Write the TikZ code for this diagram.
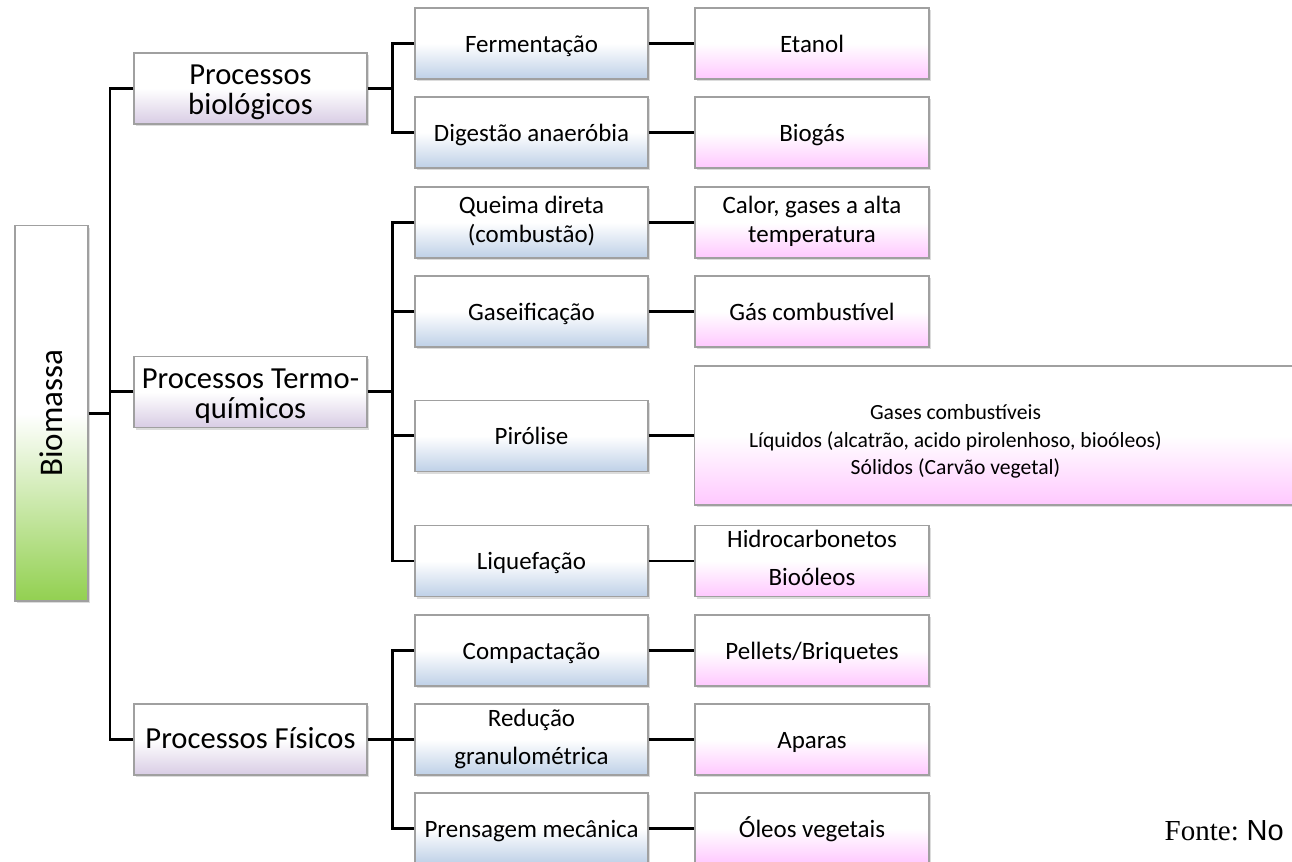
\documentclass[tikz,border=0pt]{standalone}
\usepackage{fontspec}
\setmainfont{Carlito}
\newfontfamily\fonteserif{Liberation Serif}
\newfontfamily\fontesans{Liberation Sans}
\usetikzlibrary{shadows}
\definecolor{boxline}{RGB}{160,160,160}
\definecolor{purpbot}{RGB}{216,204,228}
\definecolor{bluebot}{RGB}{190,208,231}
\definecolor{pinkbot}{RGB}{255,200,255}
\definecolor{greenbot}{RGB}{146,208,80}
\newcommand{\lowstrut}{\rule[-0.25em]{0pt}{1.2em}}
\newcommand{\midstrut}{\rule[-0.3em]{0pt}{1.2em}}
\newcommand{\twolines}[2]{\raisebox{-1.5pt}[\height][\depth]{\begin{tabular}{@{}c@{}}#1\\#2\end{tabular}}}
\begin{document}
\begin{tikzpicture}[x=0.01cm,y=-0.01cm,
  basebox/.style={draw=boxline, line width=0.35pt, rectangle, inner sep=1pt, align=center,
    drop shadow={shadow xshift=0.5pt, shadow yshift=-0.6pt, opacity=0.28}},
  strutlow/.style={execute at begin node=\lowstrut, execute at end node=\lowstrut},
  strutmid/.style={execute at begin node=\midstrut, execute at end node=\midstrut},
  lvlone/.style={basebox, strutmid, minimum width=2.33cm, minimum height=0.71cm,
    top color=white, bottom color=purpbot, middle color=white,
    font=\fontsize{8.7}{8.5}\selectfont},
  lvltwo/.style={basebox, strutlow, minimum width=2.33cm, minimum height=0.71cm,
    top color=white, bottom color=bluebot, middle color=white,
    font=\fontsize{7.1}{8}\selectfont},
  lvlthree/.style={basebox, strutlow, minimum width=2.34cm, minimum height=0.71cm,
    top color=white, bottom color=pinkbot, middle color=white,
    font=\fontsize{7.1}{8}\selectfont},
  rootbox/.style={basebox, minimum width=0.73cm, minimum height=3.75cm,
    top color=white, bottom color=greenbot, middle color=white,
    font=\fontsize{9.4}{10}\selectfont},
  conn/.style={line width=0.85pt, draw=black}
]
\useasboundingbox (0,0) rectangle (1292,862);
\clip (0,0) rectangle (1292,862);

% root
\node[rootbox] (bio) at (51.5,413.5) {\rotatebox{90}{Biomassa}};

% level 1
\node[lvlone] (pa) at (250.5,88.5) {\twolines{Processos}{biológicos}};
\node[lvlone] (pb) at (250.5,392) {\twolines{Processos Termo-}{químicos}};
\node[lvlone] (pc) at (250.5,739.5) {Processos Físicos};

% level 2
\node[lvltwo] (fa) at (531.5,43.5) {Fermentação};
\node[lvltwo] (fb) at (531.5,132.5) {Digestão anaeróbia};
\node[lvltwo] (fc) at (531.5,222.5) {Queima direta\\(combustão)};
\node[lvltwo] (fd) at (531.5,311.5) {Gaseificação};
\node[lvltwo] (fe) at (531.5,436) {Pirólise};
\node[lvltwo] (ff) at (531.5,561) {Liquefação};
\node[lvltwo] (fg) at (531.5,650.5) {Compactação};
\node[lvltwo] (fh) at (531.5,739.5) {Redução\\[2.8pt]granulométrica};
\node[lvltwo] (fi) at (531.5,828.5) {Prensagem mecânica};

% level 3
\node[lvlthree] (ra) at (812,43.5) {Etanol};
\node[lvlthree] (rb) at (812,132.5) {Biogás};
\node[lvlthree] (rc) at (812,222.5) {Calor, gases a alta\\temperatura};
\node[lvlthree] (rd) at (812,311.5) {Gás combustível};
\node[basebox, minimum width=6.15cm, minimum height=1.39cm,
  top color=white, bottom color=pinkbot, middle color=white,
  font=\fontsize{6.15}{7.9}\selectfont] (re) at (1002.5,435.5)
  {\raisebox{-1.7pt}[\height][\depth]{\begin{tabular}{@{}c@{}}Gases combustíveis\\Líquidos (alcatrão, acido pirolenhoso, bioóleos)\\Sólidos (Carvão vegetal)\end{tabular}}\hspace{0.94cm}};
\node[lvlthree] (rf) at (812,561) {Hidrocarbonetos\\[2.8pt]Bioóleos};
\node[lvlthree] (rg) at (812,650.5) {Pellets/Briquetes};
\node[lvlthree] (rh) at (812,739.5) {Aparas};
\node[lvlthree] (ri) at (812,828.5) {Óleos vegetais};

% source
\node[anchor=base west, inner sep=0pt] (fonte) at (1164,840)
  {\fontsize{8.25}{10}\fonteserif Fonte:\hspace{2.2pt}\fontesans No};

% connectors root -> level 1
\coordinate (j0) at (110,413.5);
\draw[conn] (bio.east) -- (j0);
\draw[conn] (pa.west) -| (j0) |- (pc.west);
\draw[conn] (pb.west) -- (pb.west -| j0);

% level 1 -> level 2
\coordinate (j1) at (392,88.5);
\draw[conn] (pa.east) -- (j1);
\draw[conn] (fa.west) -| (j1) |- (fb.west);
\coordinate (j2) at (392,392);
\draw[conn] (pb.east) -- (j2);
\draw[conn] (fc.west) -| (j2) |- (ff.west);
\draw[conn] (fd.west) -- (fd.west -| j2);
\draw[conn] (fe.west) -- (fe.west -| j2);
\coordinate (j3) at (392,739.5);
\draw[conn] (pc.east) -- (j3);
\draw[conn] (fg.west) -| (j3) |- (fi.west);
\draw[conn] (fh.west) -- (j3);

% level 2 -> level 3
\draw[conn] (fa.east) -- (ra.west);
\draw[conn] (fb.east) -- (rb.west);
\draw[conn] (fc.east) -- (rc.west);
\draw[conn] (fd.east) -- (rd.west);
\draw[conn] (fe.east) -- (fe.east -| re.west);
\draw[conn] (ff.east) -- (rf.west);
\draw[conn] (fg.east) -- (rg.west);
\draw[conn] (fh.east) -- (rh.west);
\draw[conn] (fi.east) -- (ri.west);
\end{tikzpicture}
\end{document}
